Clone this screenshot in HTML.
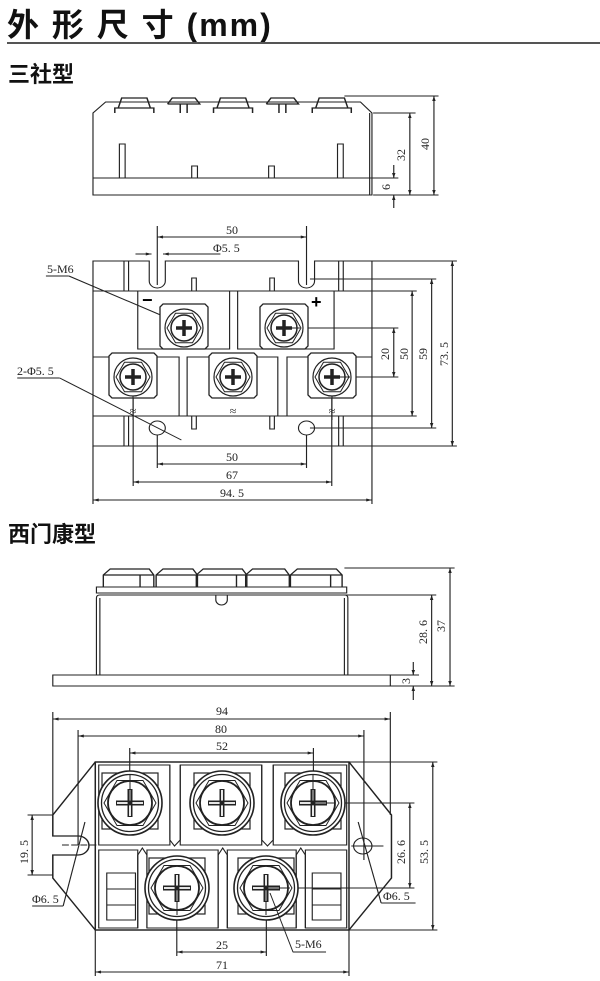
<!DOCTYPE html>
<html><head><meta charset="utf-8"><style>
html,body{margin:0;padding:0;background:#fff;width:600px;height:981px;overflow:hidden}
svg{display:block}
.t{font-family:"Liberation Serif","Noto Serif CJK SC",serif;font-size:12px;fill:#222}
.m{text-anchor:middle}
.h{font-family:"Liberation Sans","Noto Sans CJK SC",sans-serif;font-weight:bold;fill:#111}
</style></head><body>
<svg width="600" height="981" viewBox="0 0 600 981" xmlns="http://www.w3.org/2000/svg">
<defs>
<marker id="a" viewBox="0 0 10 10" refX="10" refY="5" markerWidth="7" markerHeight="5" orient="auto-start-reverse"><path d="M0,2 L10,5 L0,8z" fill="#222"/></marker>
<g id="s1">
<path d="M-21,-24H21L24,-21V18L21,21H-21L-24,18V-21Z" fill="#fff" stroke="#222" stroke-width="1.3"/>
<circle r="19" fill="none" stroke="#222" stroke-width="1.2"/>
<polygon points="17,0 8.5,14.7 -8.5,14.7 -17,0 -8.5,-14.7 8.5,-14.7" fill="none" stroke="#222"/>
<circle r="13" fill="none" stroke="#222" stroke-width="1.5"/>
<path d="M-8,0H8M0,-8V8" stroke="#222" stroke-width="3.5"/>
</g>
<g id="s2">
<rect x="-28" y="-30" width="56" height="56" fill="#fff" stroke="#222" stroke-width="1.2"/>
<circle r="32" fill="#fff" stroke="#222" stroke-width="1.6"/>
<circle r="28.5" fill="none" stroke="#222" stroke-width="1.3"/>
<polygon points="26,0 13,22.5 -13,22.5 -26,0 -13,-22.5 13,-22.5" fill="none" stroke="#222"/>
<circle r="22" fill="none" stroke="#222" stroke-width="1.8"/>
<path d="M-14,0H14M0,-14V14" stroke="#222" stroke-width="5"/>
<path d="M-13,0H13M0,-13V13" stroke="#fff" stroke-width="1.8"/>
<circle r="2.5" fill="#222"/>
</g>
</defs>

<text x="7" y="36" class="h" font-size="32" letter-spacing="2">外 形 尺 寸 (mm)</text>
<line x1="7" y1="43" x2="600" y2="43" stroke="#555" stroke-width="2"/>
<text x="8" y="82" class="h" font-size="22">三社型</text>

<g transform="scale(1.148,1)" fill="none" stroke="#222" stroke-width="1">
<!-- side view 1 -->
<path d="M81,195V113L92,102H314L324,113V195Z"/>
<line x1="81" y1="178" x2="322" y2="178"/>
<line x1="322" y1="113" x2="322" y2="195"/>
<rect x="104" y="144" width="5" height="34"/><rect x="294" y="144" width="5" height="34"/>
<rect x="167" y="166" width="5" height="12"/><rect x="234" y="166" width="5" height="12"/>
<g stroke-width="1.3">
<path d="M100,113V108H134V113M103,108L106,98H128L131,108"/>
<path d="M186,113V108H220V113M189,108L192,98H214L217,108"/>
<path d="M272,113V108H306V113M275,108L278,98H300L303,108"/>
<path d="M146,104L150,98H170L174,104H146M157,104V113M163,104V113"/>
<path d="M232,104L236,98H256L260,104H232M243,104V113M249,104V113"/>
</g>
<line x1="300" y1="96" x2="382" y2="96"/><line x1="325" y1="113" x2="362" y2="113"/>
<line x1="325" y1="195" x2="382" y2="195"/>
<line x1="378" y1="96" x2="378" y2="195" marker-start="url(#a)" marker-end="url(#a)"/>
<line x1="357" y1="113" x2="357" y2="195" marker-start="url(#a)" marker-end="url(#a)"/>
<line x1="322" y1="178" x2="347" y2="178"/>
<line x1="343" y1="165" x2="343" y2="178" marker-end="url(#a)"/>
<line x1="343" y1="208" x2="343" y2="195" marker-end="url(#a)"/>

<!-- top view 1 -->
<path d="M81,446V261H130V281A7,7 0 0 0 144,281V261H260V281A7,7 0 0 0 274,281V261H324V446Z"/>
<line x1="81" y1="291" x2="324" y2="291"/>
<line x1="81" y1="416" x2="324" y2="416"/>
<path d="M108,261V291M112,261V291M295,261V291M299,261V291M108,416V446M112,416V446M295,416V446M299,416V446"/>
<rect x="120" y="291" width="80" height="58"/><rect x="207" y="291" width="84" height="58"/>
<path d="M81,357H156V416M163,416V357H242V416M250,416V357H324"/>
<rect x="167" y="278" width="4" height="13"/><rect x="235" y="278" width="4" height="13"/>
<rect x="167" y="416" width="4" height="13"/><rect x="235" y="416" width="4" height="13"/>
<circle cx="137" cy="428" r="7"/><circle cx="267" cy="428" r="7"/>
<line x1="137" y1="226" x2="137" y2="285"/><line x1="267" y1="226" x2="267" y2="285"/>
<line x1="137" y1="237" x2="267" y2="237" marker-start="url(#a)" marker-end="url(#a)"/>
<line x1="118" y1="254" x2="132" y2="254" marker-end="url(#a)"/><line x1="154" y1="254" x2="142" y2="254" marker-end="url(#a)"/>
<line x1="142" y1="254" x2="192" y2="254"/>
<line x1="40" y1="276" x2="60" y2="276"/><line x1="60" y1="276" x2="146" y2="318"/>
<line x1="15" y1="378" x2="52" y2="378"/><line x1="52" y1="378" x2="158" y2="440"/>
<line x1="324" y1="261" x2="398" y2="261"/><line x1="324" y1="446" x2="398" y2="446"/>
<line x1="270" y1="279" x2="380" y2="279"/><line x1="270" y1="428" x2="380" y2="428"/>
<line x1="290" y1="291" x2="363" y2="291"/><line x1="290" y1="416" x2="363" y2="416"/>
<line x1="247" y1="328" x2="347" y2="328"/><line x1="289" y1="377" x2="347" y2="377"/>
<line x1="394" y1="261" x2="394" y2="446" marker-start="url(#a)" marker-end="url(#a)"/>
<line x1="376" y1="279" x2="376" y2="428" marker-start="url(#a)" marker-end="url(#a)"/>
<line x1="359" y1="291" x2="359" y2="416" marker-start="url(#a)" marker-end="url(#a)"/>
<line x1="343" y1="328" x2="343" y2="377" marker-start="url(#a)" marker-end="url(#a)"/>
<line x1="137" y1="435" x2="137" y2="468"/><line x1="267" y1="435" x2="267" y2="468"/>
<line x1="116" y1="396" x2="116" y2="486"/><line x1="289" y1="396" x2="289" y2="486"/>
<line x1="81" y1="446" x2="81" y2="504"/><line x1="324" y1="446" x2="324" y2="504"/>
<line x1="137" y1="464" x2="267" y2="464" marker-start="url(#a)" marker-end="url(#a)"/>
<line x1="116" y1="482" x2="289" y2="482" marker-start="url(#a)" marker-end="url(#a)"/>
<line x1="81" y1="500" x2="324" y2="500" marker-start="url(#a)" marker-end="url(#a)"/>

<!-- side view 2 -->
<rect x="46" y="675" width="294" height="11"/>
<path d="M84,675V598Q84,595 87,595H300Q303,595 303,598V675M87,675V598M300,675V598"/>
<rect x="84" y="587" width="218" height="6"/>
<path d="M188,595V600A5,5 0 0 0 198,600V595"/>
<g stroke-width="1.2">
<path d="M90,587V575L96,569H130L134,575V587M90,575H134M122,575V587"/>
<path d="M136,587V575L142,569H168L172,575V587M136,575H172"/>
<path d="M171,587V575L177,569H211L215,575V587M171,575H215M206,575V587"/>
<path d="M214,587V575L220,569H248L252,575V587M214,575H252"/>
<path d="M253,587V575L259,569H293L298,575V587M253,575H298M288,575V587"/>
</g>
<line x1="300" y1="568" x2="396" y2="568"/><line x1="300" y1="595" x2="380" y2="595"/>
<line x1="340" y1="686" x2="396" y2="686"/>
<line x1="392" y1="568" x2="392" y2="686" marker-start="url(#a)" marker-end="url(#a)"/>
<line x1="376" y1="595" x2="376" y2="686" marker-start="url(#a)" marker-end="url(#a)"/>
<line x1="340" y1="675" x2="365" y2="675"/>
<line x1="360" y1="662" x2="360" y2="675" marker-end="url(#a)"/>
<line x1="360" y1="700" x2="360" y2="686" marker-end="url(#a)"/>

<!-- bottom view -->
<path d="M83,762L46,815V836H68A9,9 0 0 1 68,855H46V878L83,930H304L341,878V815L304,762Z" stroke-width="1.3"/>
<rect x="83" y="762" width="221" height="168" stroke-width="1.3"/>
<path d="M86,765H148V845H86ZM157,765H228V845H157ZM238,765H302V845H238Z"/>
<path d="M148,765V840L152,846L157,840V765M228,765V840L233,846L238,840V765"/>
<path d="M86,850H120V928H86ZM128,850H190V928H128ZM198,850H258V928H198ZM266,850H302V928H266Z"/>
<path d="M120,928V855L124,848L128,855V928M190,928V855L194,848L198,855V928M258,928V855L262,848L266,855V928"/>
<rect x="93" y="873" width="25" height="47"/><path d="M93,889H118M93,905H118"/>
<rect x="272" y="873" width="25" height="47"/><path d="M272,889H297M272,905H297"/>
<circle cx="316" cy="846" r="8"/>
<line x1="46" y1="712" x2="46" y2="815"/><line x1="340" y1="712" x2="340" y2="815"/>
<line x1="68" y1="730" x2="68" y2="845"/><line x1="317" y1="730" x2="317" y2="860"/>
<line x1="113" y1="748" x2="113" y2="775"/><line x1="273" y1="748" x2="273" y2="775"/>
<line x1="46" y1="719" x2="340" y2="719" marker-start="url(#a)" marker-end="url(#a)"/>
<line x1="68" y1="736" x2="317" y2="736" marker-start="url(#a)" marker-end="url(#a)"/>
<line x1="113" y1="753" x2="273" y2="753" marker-start="url(#a)" marker-end="url(#a)"/>
<line x1="304" y1="762" x2="381" y2="762"/><line x1="304" y1="930" x2="381" y2="930"/>
<line x1="290" y1="803" x2="361" y2="803"/><line x1="250" y1="888" x2="361" y2="888"/>
<line x1="377" y1="762" x2="377" y2="930" marker-start="url(#a)" marker-end="url(#a)"/>
<line x1="357" y1="803" x2="357" y2="888" marker-start="url(#a)" marker-end="url(#a)"/>
<line x1="24" y1="815" x2="46" y2="815"/><line x1="24" y1="875" x2="46" y2="875"/>
<line x1="28" y1="815" x2="28" y2="875" marker-start="url(#a)" marker-end="url(#a)"/>
<line x1="54" y1="845" x2="84" y2="845" stroke-dasharray="6,2"/>
<line x1="306" y1="846" x2="334" y2="846"/>
<line x1="154" y1="915" x2="154" y2="956"/><line x1="232" y1="915" x2="232" y2="956"/>
<line x1="83" y1="930" x2="83" y2="976"/><line x1="304" y1="930" x2="304" y2="976"/>
<line x1="154" y1="952" x2="232" y2="952" marker-start="url(#a)" marker-end="url(#a)"/>
<line x1="83" y1="972" x2="304" y2="972" marker-start="url(#a)" marker-end="url(#a)"/>
<line x1="28" y1="906" x2="55" y2="906"/><line x1="55" y1="906" x2="74" y2="822"/>
<line x1="332" y1="903" x2="362" y2="903"/><line x1="332" y1="903" x2="312" y2="822"/>
<line x1="255" y1="952" x2="284" y2="952"/>
</g>

<!-- screws top model -->
<use href="#s1" x="184" y="328"/>
<use href="#s1" x="284" y="328"/>
<use href="#s1" x="133" y="377"/>
<use href="#s1" x="233" y="377"/>
<use href="#s1" x="332" y="377"/>
<g stroke="#222" stroke-width="1" fill="none">
<line x1="133" y1="396" x2="133" y2="420"/><line x1="332" y1="396" x2="332" y2="420"/>
<line x1="284" y1="328" x2="300" y2="328"/><line x1="332" y1="377" x2="350" y2="377"/>
</g>

<!-- screws bottom model -->
<use href="#s2" x="130" y="803"/>
<use href="#s2" x="222" y="803"/>
<use href="#s2" x="313" y="803"/>
<use href="#s2" x="177" y="888"/>
<use href="#s2" x="266" y="888"/>
<g stroke="#222" stroke-width="1" fill="none">
<line x1="130" y1="775" x2="130" y2="803"/><line x1="313" y1="775" x2="313" y2="803"/>
<line x1="313" y1="803" x2="335" y2="803"/><line x1="266" y1="888" x2="290" y2="888"/>
<line x1="177" y1="888" x2="177" y2="915"/><line x1="266" y1="888" x2="266" y2="915"/>
<line x1="293" y1="952" x2="270" y2="893"/>
</g>

<text class="t m" x="232" y="234">50</text>
<text class="t" x="213" y="252">Φ5. 5</text>
<text class="t" x="47" y="273">5-M6</text>
<text class="t" x="17" y="375">2-Φ5. 5</text>
<text class="t m" x="232" y="461">50</text><text class="t m" x="232" y="479">67</text><text class="t m" x="232" y="497">94. 5</text>
<text x="142" y="306" font-size="18" font-weight="bold" font-family="Liberation Sans">−</text>
<text x="311" y="308" font-size="18" font-weight="bold" font-family="Liberation Sans">+</text>
<text class="t m" x="133" y="415">≈</text><text class="t m" x="233" y="415">≈</text><text class="t m" x="332" y="415">≈</text>
<g class="t">
<text transform="translate(429,150) rotate(-90)">40</text>
<text transform="translate(405,161) rotate(-90)">32</text>
<text transform="translate(390,190) rotate(-90)">6</text>
<text transform="translate(448,366) rotate(-90)">73. 5</text>
<text transform="translate(427,360) rotate(-90)">59</text>
<text transform="translate(408,360) rotate(-90)">50</text>
<text transform="translate(389,360) rotate(-90)">20</text>
</g>

<text x="8" y="542" class="h" font-size="22">西门康型</text>

<text class="t m" x="222" y="715">94</text><text class="t m" x="221" y="733">80</text><text class="t m" x="222" y="750">52</text>
<text class="t m" x="222" y="949">25</text><text class="t m" x="222" y="969">71</text>
<text class="t" x="32" y="903">Φ6. 5</text><text class="t" x="383" y="900">Φ6. 5</text>
<text class="t" x="295" y="948">5-M6</text>
<g class="t">
<text transform="translate(445,632) rotate(-90)">37</text>
<text transform="translate(427,644) rotate(-90)">28. 6</text>
<text transform="translate(410,684) rotate(-90)">3</text>
<text transform="translate(428,864) rotate(-90)">53. 5</text>
<text transform="translate(405,864) rotate(-90)">26. 6</text>
<text transform="translate(28,864) rotate(-90)">19. 5</text>
</g>
</svg>
</body></html>
